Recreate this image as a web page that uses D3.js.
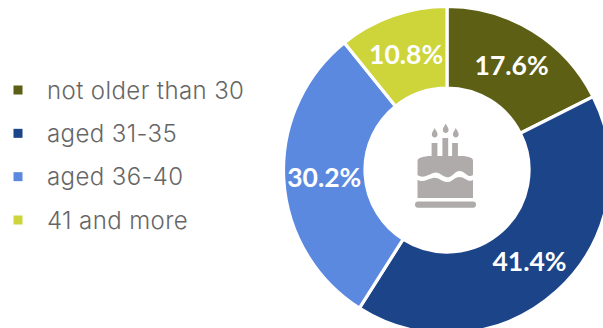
<!DOCTYPE html>
<html>
<head>
<meta charset="utf-8">
<script src="https://cdn.jsdelivr.net/npm/d3@7/dist/d3.min.js"></script>
<style>
html,body{margin:0;padding:0;background:#fff;overflow:hidden}
svg{display:block}
</style>
</head>
<body>
<svg id="chart" width="603" height="328"></svg>
<script>
// Age breakdown, in percent, clockwise from twelve o'clock
const categories = ["not older than 30", "aged 31-35", "aged 36-40", "41 and more"];
const shares = [17.6, 41.4, 30.2, 10.8];
const palette = ["#5C5F14", "#1B4489", "#5B89DF", "#CDD53B"];

const width = 603, height = 328;
const cx = 447, cy = 170, outerR = 163.5, innerR = 82, labelR = 123;

const svg = d3.select("#chart");

const pie = d3.pie().value(d => d).sort(null);
const arc = d3.arc().innerRadius(innerR).outerRadius(outerR);
const labelArc = d3.arc().innerRadius(labelR).outerRadius(labelR);

const ring = svg.append("g").attr("transform", `translate(${cx},${cy})`);
const slices = pie(shares);

ring.selectAll("path.slice").data(slices).join("path")
  .attr("class", "slice")
  .attr("d", arc)
  .attr("fill", (d, i) => palette[i])
  .attr("stroke", "#fff")
  .attr("stroke-width", 3.2);

ring.selectAll("text.value").data(slices).join("text")
  .attr("class", "value")
  .attr("x", d => labelArc.centroid(d)[0])
  .attr("y", d => labelArc.centroid(d)[1])
  .attr("dy", "0.38em")
  .attr("text-anchor", "middle")
  .attr("font-family", "Lato, 'Open Sans', sans-serif")
  .attr("font-weight", 700)
  .attr("font-size", 26.5)
  .attr("fill", "#fff")
  .text(d => d.data.toFixed(1) + "%");

// Legend column on the left
const legendY = d3.scalePoint().domain(categories).range([90, 220]);
const legend = svg.append("g");
legend.selectAll("rect").data(categories).join("rect")
  .attr("x", 13.5)
  .attr("y", d => legendY(d) - 4.5)
  .attr("width", 9)
  .attr("height", 9)
  .attr("fill", (d, i) => palette[i]);
legend.selectAll("text").data(categories).join("text")
  .attr("x", 47)
  .attr("y", d => legendY(d))
  .attr("dy", "0.36em")
  .attr("font-family", "Inter, sans-serif")
  .attr("font-weight", 300)
  .attr("font-size", 24)
  .attr("letter-spacing", 0.4)
  .attr("fill", "#666666")
  .text(d => d);

// Birthday cake symbol in the hole of the ring
const cake = svg.append("g").attr("transform", `translate(${cx - 1},${cy})`).attr("fill", "#AFABAB");
cake.append("rect").attr("x", -31).attr("y", 31.5).attr("width", 61).attr("height", 6.2).attr("rx", 3);
cake.append("path").attr("d",
  "M-28.5 5 L-28.5 -9 C-28.5 -12 -24 -13 -18 -14 L18 -14 C24 -13 27 -12 27 -9 L27 5 C22 9 19 1 13.5 1 C8 1 6 9 0 7 C-5 5 -8 1 -13 3 C-18 5 -23 9 -28.5 5 Z");
cake.append("path").attr("d",
  "M-28.5 10 C-23 13 -18 9 -13 8 C-8 7 -5 11 0 12 C6 13 8 7 13.5 7 C19 7 22 13 27 10 L27 28 L-28.5 28 Z");
const candles = [[-11.5, -27], [-0.7, -32], [9, -27]];
const flames = [[-11.3, -37], [-0.3, -41.5], [9.8, -37]];
cake.selectAll("rect.candle").data(candles).join("rect")
  .attr("class", "candle")
  .attr("x", d => d[0] - 2.9)
  .attr("y", d => d[1])
  .attr("width", 5.8)
  .attr("height", d => -13 - d[1]);
cake.selectAll("path.flame").data(flames).join("path")
  .attr("class", "flame")
  .attr("transform", d => `translate(${d[0]},${d[1]})`)
  .attr("d", "M0 -5 C1 -2.5 2.9 -1 2.9 1.5 C2.9 3.2 1.6 4.4 0 4.4 C-1.6 4.4 -2.9 3.2 -2.9 1.5 C-2.9 -1 -1 -2.5 0 -5 Z");
</script>
</body>
</html>
